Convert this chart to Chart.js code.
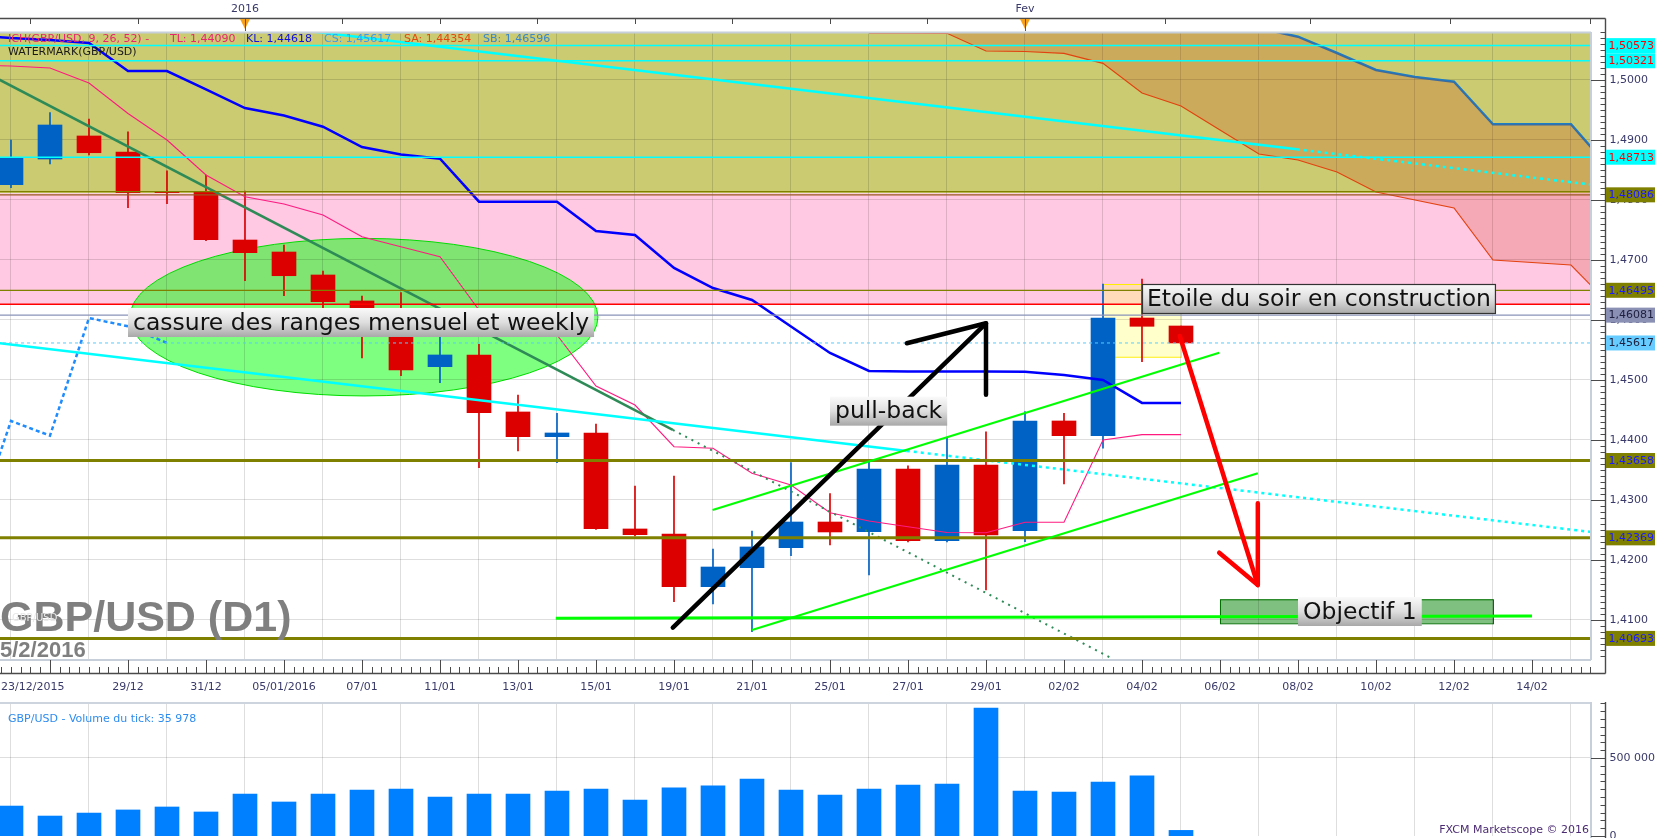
<!DOCTYPE html>
<html>
<head>
<meta charset="utf-8">
<script src="https://cdn.jsdelivr.net/npm/chart.js@4.4.0/dist/chart.umd.min.js"></script>
<style>
  html, body { margin: 0; padding: 0; background: #fff; }
  #wrap { position: relative; width: 1663px; height: 838px; overflow: hidden; }
  canvas { position: absolute; left: 0; }
  #main { top: 0; }
  #vol { top: 702px; }
</style>
</head>
<body>
<div id="wrap">
  <canvas id="main" width="1663" height="702"></canvas>
  <canvas id="vol" width="1663" height="136"></canvas>
</div>
<script>
// daily candles, slot 0 = 23/12/2015
const DATES = ["23/12","24/12","28/12","29/12","30/12","31/12","04/01","05/01","06/01","07/01","08/01",
  "11/01","12/01","13/01","14/01","15/01","18/01","19/01","20/01","21/01","22/01","25/01","26/01",
  "27/01","28/01","29/01","01/02","02/02","03/02","04/02","05/02"];
const OPEN  = [1.48255,1.48683,1.49067,1.48800,1.48142,1.48133,1.47333,1.47133,1.46750,1.46317,1.46150,
  1.45222,1.45417,1.44467,1.44055,1.44117,1.42517,1.42433,1.41555,1.41872,1.42205,1.42633,1.42472,
  1.43517,1.42322,1.43583,1.42488,1.44317,1.44072,1.46033,1.45900];
const HIGH  = [1.49000,1.49455,1.49350,1.49138,1.48488,1.48417,1.48150,1.47250,1.46817,1.46400,1.46455,
  1.45750,1.45595,1.44750,1.44445,1.44267,1.43233,1.43400,1.42183,1.42483,1.43622,1.43105,1.43667,
  1.43570,1.44040,1.44138,1.44472,1.44445,1.46600,1.46683,1.45900];
const LOW   = [1.48205,1.48600,1.48750,1.47872,1.47938,1.47320,1.46655,1.46405,1.46200,1.45367,1.45072,
  1.44955,1.43538,1.43817,1.43622,1.42510,1.42400,1.41305,1.41267,1.40805,1.42070,1.42250,1.41750,
  1.42300,1.42300,1.41500,1.42305,1.43267,1.43862,1.45305,1.45617];
const CLOSE = [1.48705,1.49250,1.48788,1.48122,1.48122,1.47338,1.47122,1.46738,1.46305,1.46150,1.45167,
  1.45417,1.44455,1.44055,1.44117,1.42522,1.42422,1.41555,1.41883,1.42217,1.42633,1.42467,1.43517,
  1.42322,1.43583,1.42417,1.44317,1.44072,1.46033,1.45895,1.45617];
const VOLUME = [192000,128000,147000,167000,186000,154000,269000,218000,269000,295000,301000,
  250000,269000,269000,288000,301000,231000,308000,321000,365000,295000,263000,301000,
  327000,333000,820000,288000,282000,346000,385000,35978];

// ichimoku lines
const IND_SLOTS = [-1,0,1,2,3,4,5,6,7,8,9,10,11,12,13,14,15,16,17,18,19,20,21,22,23,24,25,26,27,28,29,30];
const TENKAN = [1.50250,1.50233,1.50200,1.49950,1.49442,1.49000,1.48417,1.48055,1.47933,1.47750,1.47388,
  1.47222,1.47055,1.46167,1.45917,1.45750,1.44900,1.44583,1.43888,1.43862,1.43445,1.43250,1.42788,
  1.42650,1.42555,1.42458,1.42455,1.42628,1.42628,1.44000,1.44090,1.44090];
const KIJUN = [1.50750,1.50700,1.50667,1.50617,1.50150,1.50150,1.49842,1.49533,1.49408,1.49222,1.48883,
  1.48758,1.48687,1.47972,1.47972,1.47972,1.47483,1.47417,1.46867,1.46533,1.46333,1.45892,1.45450,
  1.45150,1.45142,1.45142,1.45142,1.45138,1.45083,1.45000,1.44618,1.44618];
const CHIKOU_SHIFT = 26;
const CLOUD_SLOTS = [22,23,24,25,26,27,28,29,30,31,32,33,34,35,36,37,38,39,40,41];
const SENKOU_A = [1.50780,1.50780,1.50778,1.50483,1.50475,1.50445,1.50278,1.49783,1.49567,1.49167,
  1.48767,1.48667,1.48467,1.48133,1.48000,1.47867,1.47000,1.46958,1.46917,1.46250];
const SENKOU_B = [1.51500,1.51500,1.51500,1.51500,1.51500,1.51500,1.51500,1.51500,1.51500,1.51333,
  1.50867,1.50722,1.50450,1.50167,1.50050,1.49972,1.49262,1.49262,1.49262,1.48517];

// axes
const PRICE_TICKS = [1.41,1.42,1.43,1.44,1.45,1.46,1.47,1.48,1.49,1.50];
const X_TICK_SLOTS = [1,3,5,7,9,11,13,15,17,19,21,23,25,27,29,31,33,35,37,39];
const X_TICK_LABELS = ["23/12/2015","29/12","31/12","05/01/2016","07/01","11/01","13/01","15/01",
  "19/01","21/01","25/01","27/01","29/01","02/02","04/02","06/02","08/02","10/02","12/02","14/02"];
const VOLUME_TICKS = [500000];

// horizontal levels and zones
const LEVELS = [1.50573,1.50321,1.48713,1.48138,1.48086,1.46495,1.46262,1.46081,1.45617,1.43658,1.42369,1.40693];
const BAND_OLIVE = [1.52, 1.48112];
const BAND_PINK = [1.48112, 1.46262];

// drawn trend lines [slot, price]
const CYAN_HIGH = [[6.128,1.50933],[32.97,1.48845],[40.513,1.48257]];
const CYAN_LOW = [[-1,1.45667],[22.97,1.43818],[40.513,1.42467]];
const GREEN_DIAG = [[-0.795,1.50173],[16.97,1.44167],[28.256,1.40350]];
const SUPPORT = [[13.97,1.41028],[39.0,1.41067]];
const CHANNEL_LOW = [[19.0,1.40833],[31.97,1.43445]];
const CHANNEL_HIGH = [[17.99,1.42833],[30.98,1.45455]];
const BLACK_ARROW = [[16.97,1.40872],[25.0,1.45945]];
const BLACK_HEAD = [[22.97,1.45612],[25.0,1.45945],[25.0,1.44755]];
const RED_ARROW = [[29.97,1.45733],[31.97,1.41583]];
const RED_HEAD = [[30.98,1.42122],[31.97,1.41583],[31.97,1.42945]];

const XMIN = -0.282, XMAX = 40.513;
const YMIN = 1.40333, YMAX = 1.508;
const VMAX = 858974;

const UP = "#0062c4", DOWN = "#dc0000";
const FONT = '"DejaVu Sans", sans-serif';
Chart.defaults.font.family = FONT;

function fmtPrice(v, d) { return v.toFixed(d).replace(".", ","); }

function lineDs(pts, color, width, order, extra) {
  return Object.assign({
    type: "line",
    data: pts.map(([x, y]) => ({ x, y })),
    borderColor: color,
    borderWidth: width,
    pointRadius: 0,
    tension: 0,
    fill: false,
    order: order,
    clip: 0,
  }, extra || {});
}

const candleColors = OPEN.map((o, i) => (CLOSE[i] >= o ? UP : DOWN));

const levelStyle = [
  ["#00ffff", 1.5], ["#00ffff", 1.5], ["#00ffff", 1.5], ["#808000", 1.2], ["#9a5a20", 1.2],
  ["#808000", 1.2], ["#ff0000", 1.5], ["#8a93b8", 1.2], ["#55ccff", 1, [3, 3]],
  ["#808000", 3], ["#808000", 3], ["#808000", 3],
];
// right-axis price tags: index into LEVELS, background, text
const levelTags = [
  [0, "#00ffff", "#ff0000"], [1, "#00ffff", "#ff0000"], [2, "#00ffff", "#ff0000"],
  [4, "#808000", "#1a1aff"], [5, "#808000", "#1a1aff"], [7, "#8a90b4", "#202040"],
  [8, "#66ccff", "#202040"], [9, "#808000", "#1a1aff"], [10, "#808000", "#1a1aff"], [11, "#808000", "#1a1aff"],
];

const datasets = [
  lineDs(CLOUD_SLOTS.map((s, i) => [s, SENKOU_A[i]]), "#e2420f", 1.2, 30,
    { fill: "+1", backgroundColor: "rgba(205,40,0,0.2)" }),
  lineDs(CLOUD_SLOTS.map((s, i) => [s, SENKOU_B[i]]), "#1c7cc4", 2.5, 30),
  {
    type: "bar", order: 25, grouped: false, barThickness: 1, borderWidth: 0,
    data: DATES.map((d, i) => ({ x: i, y: [LOW[i], HIGH[i]] })),
    backgroundColor: candleColors,
  },
  {
    type: "bar", order: 24, grouped: false, barThickness: 24, borderWidth: 0,
    data: DATES.map((d, i) => ({ x: i, y: [OPEN[i], CLOSE[i]] })),
    backgroundColor: candleColors,
  },
  lineDs(IND_SLOTS.map((s, i) => [s, TENKAN[i]]), "#ff1a80", 1.1, 20),
  lineDs(IND_SLOTS.map((s, i) => [s, KIJUN[i]]), "#0000ff", 2.5, 20),
  lineDs(CLOSE.map((c, i) => [i - CHIKOU_SHIFT, c]).filter(p => p[0] >= -2), "#1e8cff", 2.5, 20,
    { borderDash: [4, 3] }),
  lineDs(CYAN_HIGH.slice(0, 2), "#00ffff", 2.5, 18),
  lineDs(CYAN_HIGH.slice(1), "#00ffff", 2.5, 18, { borderDash: [3, 4] }),
  lineDs(CYAN_LOW.slice(0, 2), "#00ffff", 2.5, 18),
  lineDs(CYAN_LOW.slice(1), "#00ffff", 2.5, 18, { borderDash: [3, 4] }),
  lineDs(GREEN_DIAG.slice(0, 2), "#2e8b57", 2.5, 18),
  lineDs(GREEN_DIAG.slice(1), "#2e8b57", 2, 18, { borderDash: [2, 5] }),
];
LEVELS.forEach((v, i) => {
  const st = levelStyle[i];
  datasets.push(lineDs([[XMIN - 1, v], [XMAX + 1, v]], st[0], st[1], 15, st[2] ? { borderDash: st[2] } : {}));
});
datasets.push(
  lineDs(SUPPORT, "#00ff00", 3, 10),
  lineDs(CHANNEL_LOW, "#00ff00", 2.2, 10),
  lineDs(CHANNEL_HIGH, "#00ff00", 2.2, 10),
  lineDs(BLACK_ARROW, "#000000", 4.5, 5, { borderCapStyle: "round" }),
  lineDs(BLACK_HEAD, "#000000", 4.5, 5, { borderCapStyle: "round", borderJoinStyle: "round" }),
  lineDs(RED_ARROW, "#ff0000", 4.5, 5, { borderCapStyle: "round" }),
  lineDs(RED_HEAD, "#ff0000", 4.5, 5, { borderCapStyle: "round", borderJoinStyle: "round" })
);

function note(ctx, text, xl, yt, h, bordered) {
  ctx.font = "23.5px " + FONT;
  const w = ctx.measureText(text).width + 10;
  const g = ctx.createLinearGradient(0, yt, 0, yt + h);
  g.addColorStop(0, "#fafafa");
  g.addColorStop(0.5, "#dedede");
  g.addColorStop(1, "#a8a8a8");
  ctx.fillStyle = g;
  ctx.fillRect(xl, yt, w, h);
  if (bordered) {
    ctx.strokeStyle = "#333";
    ctx.lineWidth = 1.2;
    ctx.strokeRect(xl + 0.5, yt + 0.5, w - 1, h - 1);
  }
  ctx.fillStyle = "#111";
  ctx.textAlign = "left";
  ctx.textBaseline = "middle";
  ctx.fillText(text, xl + 5, yt + h / 2 + 1);
}

const mainDecor = {
  id: "mainDecor",
  beforeDraw(chart) {
    const { ctx, chartArea: a, scales: { x, y } } = chart;
    ctx.save();
    ctx.fillStyle = "#fff";
    ctx.fillRect(0, 0, chart.width, chart.height);
    ctx.beginPath();
    ctx.rect(a.left, a.top, a.right - a.left, a.bottom - a.top);
    ctx.clip();
    const y0 = y.getPixelForValue(BAND_OLIVE[0]), y1 = y.getPixelForValue(BAND_OLIVE[1]);
    ctx.fillStyle = "#cbcb72";
    ctx.fillRect(a.left, y0, a.right - a.left, y1 - y0);
    const y2 = y.getPixelForValue(BAND_PINK[1]);
    ctx.fillStyle = "#ffc8e3";
    ctx.fillRect(a.left, y1, a.right - a.left, y2 - y1);

    // ellipse around the broken ranges
    const cx = x.getPixelForValue(9.05), cy = y.getPixelForValue(1.46047);
    const rx = x.getPixelForValue(15.05) - cx, ry = y.getPixelForValue(1.44734) - cy;
    ctx.beginPath();
    ctx.ellipse(cx, cy, rx, ry, 0, 0, Math.PI * 2);
    ctx.fillStyle = "rgba(0,255,0,0.5)";
    ctx.fill();
    ctx.strokeStyle = "#00dd00";
    ctx.lineWidth = 1;
    ctx.stroke();

    // evening star highlight
    let xa = x.getPixelForValue(28), xb = x.getPixelForValue(30);
    let ya = y.getPixelForValue(1.466), yb = y.getPixelForValue(1.45388);
    ctx.fillStyle = "rgba(255,255,110,0.35)";
    ctx.fillRect(xa, ya, xb - xa, yb - ya);
    ctx.strokeStyle = "#ffee00";
    ctx.strokeRect(xa + 0.5, ya + 0.5, xb - xa, yb - ya);

    // target zone
    xa = x.getPixelForValue(31); xb = x.getPixelForValue(38);
    ya = y.getPixelForValue(1.41345); yb = y.getPixelForValue(1.40945);
    ctx.fillStyle = "rgba(0,128,0,0.5)";
    ctx.fillRect(xa, ya, xb - xa, yb - ya);
    ctx.strokeStyle = "#007000";
    ctx.strokeRect(xa + 0.5, ya + 0.5, xb - xa, yb - ya);
    ctx.restore();
  },
  afterDraw(chart) {
    const { ctx, chartArea: a, scales: { x, y } } = chart;
    const axisX = a.right + 14.5;
    ctx.save();

    // plot frame
    ctx.strokeStyle = "#c6cfda";
    ctx.lineWidth = 2;
    ctx.beginPath();
    ctx.moveTo(a.left, a.top + 0.5); ctx.lineTo(a.right, a.top + 0.5);
    ctx.moveTo(a.right, a.top); ctx.lineTo(a.right, a.bottom);
    ctx.moveTo(a.left, a.bottom); ctx.lineTo(a.right, a.bottom);
    ctx.stroke();

    // outer axis lines
    ctx.strokeStyle = "#4a4a4a";
    ctx.lineWidth = 1.4;
    ctx.beginPath();
    ctx.moveTo(0, 18.5); ctx.lineTo(axisX, 18.5);
    ctx.moveTo(axisX, 18.5); ctx.lineTo(axisX, a.bottom + 13.5);
    ctx.moveTo(0, a.bottom + 13.5); ctx.lineTo(axisX, a.bottom + 13.5);
    ctx.stroke();

    // price axis ticks
    ctx.lineWidth = 1;
    ctx.beginPath();
    for (let v = Math.ceil(YMIN * 1000) / 1000; v <= YMAX; v += 0.001) {
      const py = Math.round(y.getPixelForValue(v)) + 0.5;
      ctx.moveTo(axisX - 5, py); ctx.lineTo(axisX, py);
    }
    PRICE_TICKS.forEach(v => {
      const py = Math.round(y.getPixelForValue(v)) + 0.5;
      ctx.moveTo(a.right, py); ctx.lineTo(axisX, py);
    });
    // time axis ticks
    for (let s = Math.ceil(XMIN * 4) / 4; s <= XMAX; s += 0.25) {
      const pxl = Math.round(x.getPixelForValue(s)) + 0.5;
      ctx.moveTo(pxl, a.bottom + 7); ctx.lineTo(pxl, a.bottom + 13);
    }
    X_TICK_SLOTS.forEach(s => {
      const pxl = Math.round(x.getPixelForValue(s)) + 0.5;
      ctx.moveTo(pxl, a.bottom); ctx.lineTo(pxl, a.bottom + 13);
    });
    [0.5, 3.25, 6, 8.5, 11, 13.5, 16, 18.5, 21, 23.5, 26, 29.6, 33.3, 36.9, 40.5].forEach(s => {
      const pxl = Math.round(x.getPixelForValue(s)) + 0.5;
      ctx.moveTo(pxl, 18); ctx.lineTo(pxl, 24);
    });
    ctx.stroke();

    ctx.font = "11px " + FONT;
    ctx.fillStyle = "#3a3a6a";
    ctx.textBaseline = "middle";
    ctx.textAlign = "left";
    PRICE_TICKS.forEach(v => ctx.fillText(fmtPrice(v, 4), axisX + 4, y.getPixelForValue(v)));
    X_TICK_SLOTS.forEach((s, i) => {
      if (i === 0) { ctx.textAlign = "left"; ctx.fillText(X_TICK_LABELS[i], 1, a.bottom + 27); }
      else { ctx.textAlign = "center"; ctx.fillText(X_TICK_LABELS[i], x.getPixelForValue(s), a.bottom + 27); }
    });

    // top date labels with markers
    [[6, "2016"], [26, "Fev"]].forEach(([s, t]) => {
      const pxl = x.getPixelForValue(s);
      ctx.fillStyle = "#3a3a6a";
      ctx.textAlign = "center";
      ctx.fillText(t, pxl, 9);
      ctx.fillStyle = "#f7a21b";
      ctx.beginPath();
      ctx.moveTo(pxl - 5, 19); ctx.lineTo(pxl + 5, 19); ctx.lineTo(pxl, 29);
      ctx.closePath(); ctx.fill();
      ctx.strokeStyle = "#555";
      ctx.beginPath(); ctx.moveTo(pxl + 0.5, 19); ctx.lineTo(pxl + 0.5, 31); ctx.stroke();
    });

    // level tags on the price axis
    ctx.textAlign = "left";
    levelTags.forEach(([i, bg, fg]) => {
      const py = y.getPixelForValue(LEVELS[i]);
      ctx.fillStyle = bg;
      ctx.fillRect(axisX + 0.5, py - 7.5, 49, 15);
      ctx.fillStyle = fg;
      ctx.fillText(fmtPrice(LEVELS[i], 5), axisX + 3, py + 0.5);
    });

    // indicator legend
    [["ICH(GBP/USD, 9, 26, 52) -", "#e8246e", 8], ["TL: 1,44090", "#e8246e", 170],
     ["KL: 1,44618", "#1010e0", 246], ["CS: 1,45617", "#3a9af0", 324],
     ["SA: 1,44354", "#e04a10", 404], ["SB: 1,46596", "#3a86c8", 483],
     ["WATERMARK(GBP/USD)", "#1a1a1a", 8]].forEach(([t, c, lx], k) => {
      ctx.fillStyle = c;
      ctx.fillText(t, lx, k < 6 ? 39 : 52);
    });

    // watermark
    ctx.textBaseline = "alphabetic";
    ctx.fillStyle = "#7f7f7f";
    ctx.font = 'bold 43px "Liberation Sans", Arial, sans-serif';
    ctx.fillText("GBP/USD (D1)", 0, 631);
    ctx.font = 'bold 22px "Liberation Sans", Arial, sans-serif';
    ctx.fillText("5/2/2016", 0, 657);
    ctx.font = "10px " + FONT;
    ctx.fillStyle = "#e8e8e8";
    ctx.fillText("GBP/USD", 12, 621);

    // annotations
    note(ctx, "cassure des ranges mensuel et weekly", x.getPixelForValue(3), y.getPixelForValue(1.462), 29, false);
    note(ctx, "pull-back", x.getPixelForValue(21), y.getPixelForValue(1.44722), 29, false);
    note(ctx, "Etoile du soir en construction", x.getPixelForValue(29), y.getPixelForValue(1.466), 30, true);
    note(ctx, "Objectif 1", x.getPixelForValue(33), y.getPixelForValue(1.41383), 29, false);
    ctx.restore();
  },
};

new Chart(document.getElementById("main"), {
  type: "bar",
  data: { datasets },
  options: {
    responsive: false,
    animation: false,
    devicePixelRatio: 1,
    events: [],
    layout: { padding: { top: 32, left: 0, right: 0, bottom: 0 } },
    plugins: { legend: { display: false }, tooltip: { enabled: false } },
    scales: {
      x: {
        type: "linear", min: XMIN, max: XMAX, offset: false, position: "bottom",
        grid: { color: "rgba(0,0,0,0.13)", drawTicks: false },
        border: { display: false },
        ticks: { display: false },
        afterBuildTicks: s => { s.ticks = X_TICK_SLOTS.map(v => ({ value: v })); },
        afterFit: s => { s.height = 42; },
      },
      y: {
        type: "linear", min: YMIN, max: YMAX, position: "right",
        grid: { color: "rgba(0,0,0,0.13)", drawTicks: false },
        border: { display: false },
        ticks: { display: false },
        afterBuildTicks: s => { s.ticks = PRICE_TICKS.map(v => ({ value: v })); },
        afterFit: s => { s.width = 72; },
      },
    },
  },
  plugins: [mainDecor],
});

const volDecor = {
  id: "volDecor",
  beforeDraw(chart) {
    const { ctx } = chart;
    ctx.save();
    ctx.fillStyle = "#fff";
    ctx.fillRect(0, 0, chart.width, chart.height);
    ctx.restore();
  },
  afterDraw(chart) {
    const { ctx, chartArea: a, scales: { y } } = chart;
    const axisX = a.right + 14.5;
    ctx.save();
    ctx.fillStyle = "#cdd4dd";
    ctx.fillRect(0, 0, a.right + 1, 2);
    ctx.strokeStyle = "#c6cfda";
    ctx.lineWidth = 2;
    ctx.beginPath(); ctx.moveTo(a.right, 0); ctx.lineTo(a.right, chart.height); ctx.stroke();

    ctx.strokeStyle = "#4a4a4a";
    ctx.lineWidth = 1.4;
    ctx.beginPath(); ctx.moveTo(axisX, 0); ctx.lineTo(axisX, chart.height); ctx.stroke();
    ctx.lineWidth = 1;
    ctx.beginPath();
    for (let v = 0; v <= VMAX; v += 50000) {
      const py = Math.round(y.getPixelForValue(v)) + 0.5;
      ctx.moveTo(axisX - 5, py); ctx.lineTo(axisX, py);
    }
    VOLUME_TICKS.concat([0]).forEach(v => {
      const py = Math.round(y.getPixelForValue(v)) + 0.5;
      ctx.moveTo(a.right, py); ctx.lineTo(axisX, py);
    });
    ctx.stroke();

    ctx.font = "11px " + FONT;
    ctx.textBaseline = "middle";
    ctx.textAlign = "left";
    ctx.fillStyle = "#3a3a6a";
    VOLUME_TICKS.concat([0]).forEach(v =>
      ctx.fillText(v.toLocaleString("fr-FR").replace(/\s/g, " "), axisX + 4, y.getPixelForValue(v)));

    ctx.fillStyle = "#2d8cf0";
    ctx.fillText("GBP/USD - Volume du tick: 35 978", 8, 17);
    ctx.fillStyle = "#4b2b72";
    ctx.textAlign = "right";
    ctx.fillText("FXCM Marketscope \u00a9 2016", a.right - 2, 128);
    ctx.restore();
  },
};

new Chart(document.getElementById("vol"), {
  type: "bar",
  data: {
    datasets: [{
      data: VOLUME.map((v, i) => ({ x: i, y: v })),
      backgroundColor: "#0080ff",
      barThickness: 24,
      borderWidth: 0,
      grouped: false,
    }],
  },
  options: {
    responsive: false,
    animation: false,
    devicePixelRatio: 1,
    events: [],
    layout: { padding: { top: 0, left: 0, right: 0, bottom: 2 } },
    plugins: { legend: { display: false }, tooltip: { enabled: false } },
    scales: {
      x: {
        type: "linear", min: XMIN, max: XMAX, offset: false, position: "bottom",
        grid: { color: "rgba(0,0,0,0.13)", drawTicks: false },
        border: { display: false },
        ticks: { display: false },
        afterBuildTicks: s => { s.ticks = X_TICK_SLOTS.map(v => ({ value: v })); },
        afterFit: s => { s.height = 0; },
      },
      y: {
        type: "linear", min: 0, max: VMAX, position: "right",
        grid: { color: "rgba(0,0,0,0.13)", drawTicks: false },
        border: { display: false },
        ticks: { display: false },
        afterBuildTicks: s => { s.ticks = VOLUME_TICKS.map(v => ({ value: v })); },
        afterFit: s => { s.width = 72; },
      },
    },
  },
  plugins: [volDecor],
});
</script>
</body>
</html>
